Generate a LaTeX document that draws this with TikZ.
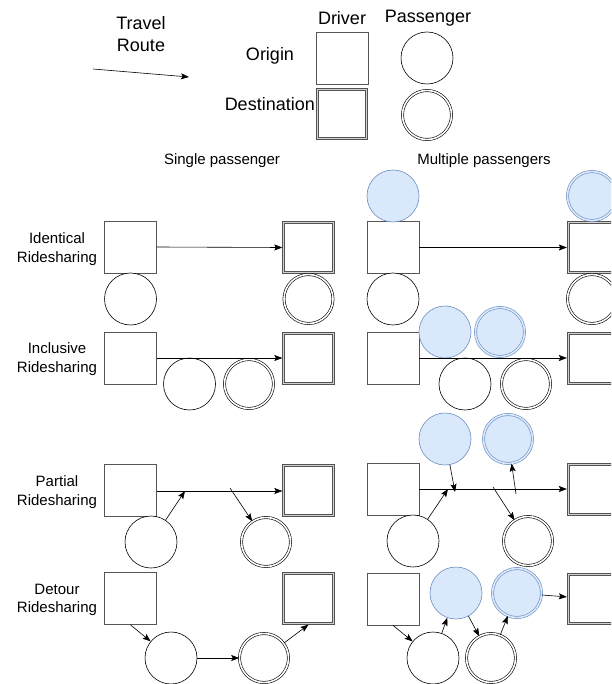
\documentclass[tikz,border=0pt]{standalone}
\usepackage{fontspec}
\setmainfont{Liberation Sans}
\usetikzlibrary{arrows.meta}
\definecolor{bfill}{HTML}{DAE8FC}
\definecolor{bline}{HTML}{6C8EBF}
\definecolor{sqline}{HTML}{555555}
\tikzset{
  drv/.style={rectangle, draw=sqline, line width=0.8pt, minimum size=52pt, inner sep=0pt, fill=white},
  drvd/.style={rectangle, draw=black!68, line width=2.8pt, minimum size=49.5pt, inner sep=0pt, fill=white,
     postaction={draw=black!18, line width=0.9pt}},
  pas/.style={circle, draw=black, line width=0.6pt, minimum size=52pt, inner sep=0pt, fill=white},
  pasd/.style={pas, double=white, double distance=1.6pt, minimum size=49pt},
  bp/.style={pas, draw=bline, fill=bfill},
  bpd/.style={pasd, draw=bline, fill=bfill, double=bfill},
  arr/.style={draw=black, line width=0.6pt, -{Stealth[length=8pt,width=6pt,inset=1.5pt]}},
  lg/.style={font=\fontsize{18}{22}\selectfont, align=center, inner sep=0pt},
  lb/.style={font=\fontsize{15}{18.5}\selectfont, align=center, inner sep=0pt}
}
\begin{document}
\begin{tikzpicture}[x=1pt,y=-1pt]
\useasboundingbox (0,0) rectangle (611,684);
\fill[white] (0,0) rectangle (611,684);
\begin{scope}
\clip (0,0) rectangle (611,684);

% ---------- legend ----------
\node[lg] (tr) at (141,34) {Travel\\Route};
\coordinate (ta) at (93,69);
\coordinate (tb) at (189,77);
\draw[arr] (ta) -- (tb);
\node[lg] (ldrv) at (342,18) {Driver};
\node[lg] (lpas) at (428,18) {Passenger};
\node[lg] (lori) at (270,56) {Origin};
\node[lg, anchor=east] (ldes) at (315,104) {Destination};
\node[drv] (lsq1) at (342,58) {};
\node[drvd] (lsq2) at (342,114) {};
\node[pas] (lc1) at (427,58) {};
\node[pasd] (lc2) at (427,115) {};

% ---------- section titles ----------
\node[lb] (st1) at (222,161) {Single passenger};
\node[lb] (st2) at (484,161) {Multiple passengers};

% ---------- row labels ----------
\node[lb] (r1) at (57,249) {Identical\\Ridesharing};
\node[lb] (r2) at (57,359) {Inclusive\\Ridesharing};
\node[lb] (r3) at (57,492) {Partial\\Ridesharing};
\node[lb] (r4) at (57,600) {Detour\\Ridesharing};

% ---------- Identical, single ----------
\node[drv] (a1s) at (130.5,247) {};
\node[drvd] (a1d) at (308.5,247.5) {};
\node[pas] (a1p) at (130.5,299) {};
\node[pasd] (a1q) at (308.5,299) {};
\draw[arr] (a1s.east) -- (a1d.west);

% ---------- Identical, multiple ----------
\node[drv] (a2s) at (393,247.5) {};
\node[drvd] (a2d) at (593,247.5) {};
\node[bp] (a2b) at (393,196) {};
\node[bpd] (a2c) at (592,196) {};
\node[pas] (a2p) at (393,299) {};
\node[pasd] (a2q) at (592,299) {};
\draw[arr] (a2s.east) -- (a2d.west);

% ---------- Inclusive, single ----------
\node[drv] (b1s) at (130.5,358.5) {};
\node[drvd] (b1d) at (308.5,358.5) {};
\node[pas] (b1p) at (189.5,384) {};
\node[pasd] (b1q) at (249,384) {};
\draw[arr] (b1s.east |- 0,358) -- (b1d.west |- 0,358);

% ---------- Inclusive, multiple ----------
\node[drv] (b2s) at (393,358.5) {};
\node[drvd] (b2d) at (593,358.5) {};
\node[pas] (b2p) at (465,384) {};
\node[pasd] (b2q) at (526,384) {};
\node[bp] (b2b) at (445,332) {};
\node[bpd] (b2c) at (500,332) {};
\draw[arr] (b2s.east |- 0,358) -- (b2d.west |- 0,358);

% ---------- Partial, single ----------
\node[drv] (c1s) at (130.5,490.5) {};
\node[drvd] (c1d) at (308.5,490.5) {};
\node[pas] (c1p) at (151,542) {};
\node[pasd] (c1q) at (266,542) {};
\coordinate (c1m) at (185,491);
\coordinate (c1n) at (230,488);
\draw[arr] (c1s.east |- 0,491) -- (c1d.west |- 0,491);
\draw[arr] (c1p) -- (c1m);
\draw[arr] (c1n) -- (c1q);

% ---------- Partial, multiple ----------
\node[drv] (c2s) at (393,489.5) {};
\node[drvd] (c2d) at (593,489.5) {};
\node[pas] (c2p) at (413,541) {};
\node[pasd] (c2q) at (528,541) {};
\node[bp] (c2b) at (445,439) {};
\node[bpd] (c2c) at (508,439) {};
\coordinate (c2m) at (448,489);
\coordinate (c2n) at (455,492);
\coordinate (c2o) at (493,487);
\coordinate (c2r) at (516,494);
\draw[arr] (c2s.east |- 0,489) -- (c2d.west |- 0,489);
\draw[arr] (c2p) -- (c2m);
\draw[arr] (c2b) -- (c2n);
\draw[arr] (c2o) -- (c2q);
\draw[arr] (c2r) -- (c2c);

% ---------- Detour, single ----------
\node[drv] (d1s) at (130.5,598.5) {};
\node[drvd] (d1d) at (308.5,598.5) {};
\node[pas] (d1p) at (171,658) {};
\node[pasd] (d1q) at (264,658) {};
\draw[arr] (d1s.south) -- (d1p);
\draw[arr] (d1p.east) -- (d1q.west);
\draw[arr] (d1q) -- (d1d.south);

% ---------- Detour, multiple ----------
\node[drv] (d2s) at (393,599) {};
\node[drvd] (d2d) at (593,599) {};
\node[pas] (d2p) at (433,658) {};
\node[pasd] (d2q) at (491,658) {};
\node[bp] (d2b) at (456,593) {};
\node[bpd] (d2c) at (517,593) {};
\draw[arr] (d2s.south) -- (d2p);
\draw[arr] (d2p) -- (d2b);
\draw[arr] (d2b) -- (d2q);
\draw[arr] (d2q) -- (d2c);
\draw[arr] (d2c) -- (d2d);
\end{scope}
\end{tikzpicture}
\end{document}
